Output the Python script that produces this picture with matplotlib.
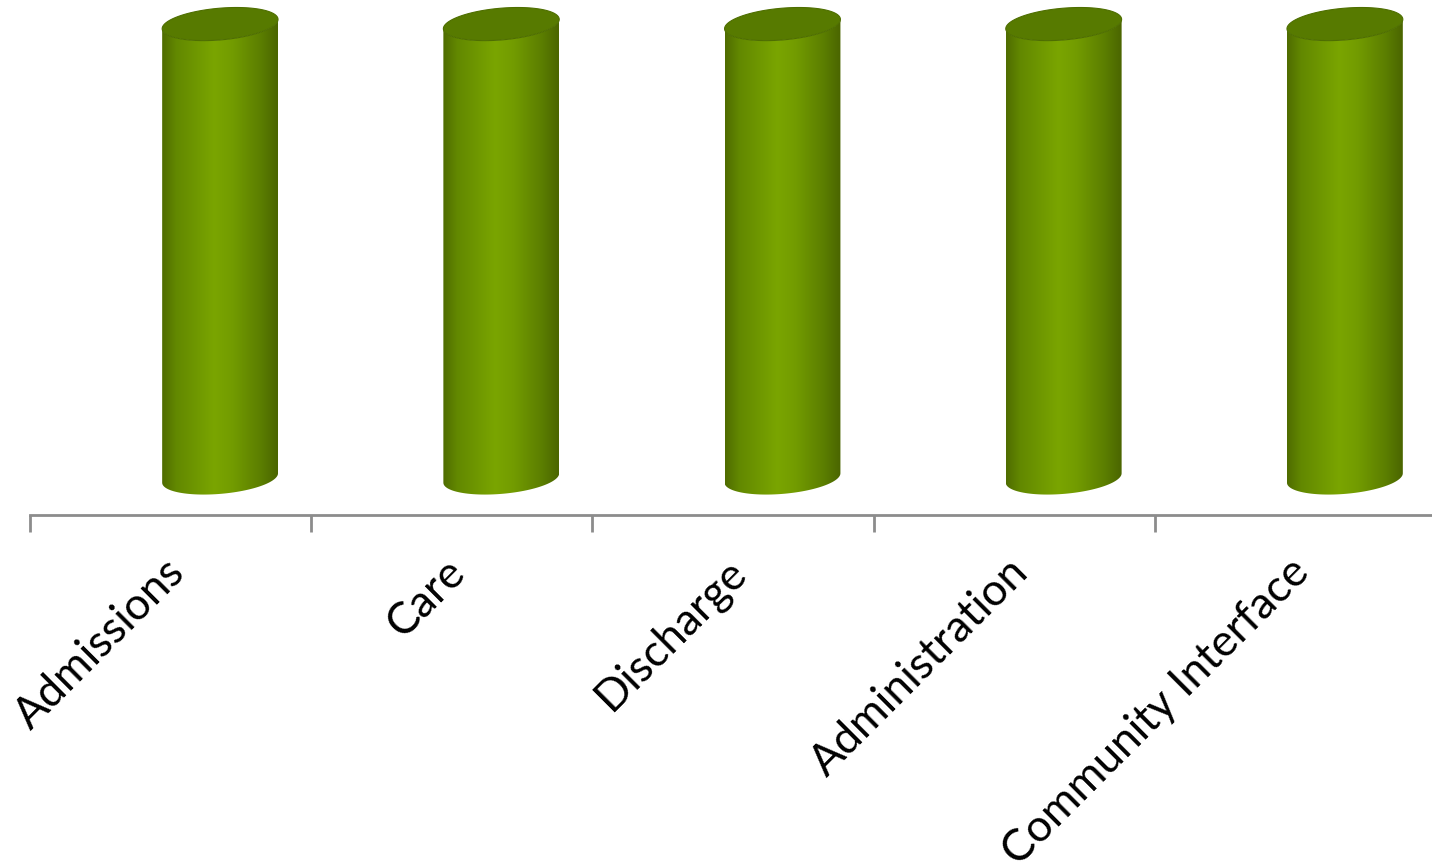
import numpy as np
import matplotlib
matplotlib.use('Agg')
import matplotlib.pyplot as plt
from matplotlib.patches import Polygon
from matplotlib.colors import LinearSegmentedColormap

##==============================================================================
categories = ['Admissions', 'Care', 'Discharge', 'Administration', 'Community Interface']
values = [1.0, 1.0, 1.0, 1.0, 1.0]

##==============================================================================
W, H = 1432, 865
fig = plt.figure(figsize=(W/100, H/100), dpi=100)
# axes: left edge at the first tick (x=30 px), floor line at y=515 px
ax = fig.add_axes([30/W, 1-515/H, 1406/W, 515/H])
ax.set_xlim(0, len(categories))
ax.set_ylim(-0.0815, 1.053)

# cylinder geometry in data units
dx = 0.176        # 3D depth shift to the right
half_w = 0.206    # half width of the cylinder
b = 0.035         # vertical semi axis of the ellipses
s = 0.05          # slight tilt of the ellipses

body_cmap = LinearSegmentedColormap.from_list('cyl', [
    (0.0, '#4f6c00'), (0.12, '#628800'), (0.45, '#7aa500'),
    (0.6, '#739c00'), (0.85, '#5c7f00'), (1.0, '#4a6500')])

t = np.linspace(0, np.pi, 60)
for i, v in enumerate(values):
    cx = i + 0.5 + dx
    # bottom ellipse front half (left -> right)
    xb = cx - half_w*np.cos(t)
    yb = -b*np.sin(t) + s*(xb - cx)
    # top ellipse front half (right -> left)
    xt = cx + half_w*np.cos(t)
    yt = v - b*np.sin(t) + s*(xt - cx)
    body = Polygon(np.column_stack([np.r_[xb, xt], np.r_[yb, yt]]),
                   closed=True, facecolor='none', edgecolor='none')
    ax.add_patch(body)
    grad = np.linspace(0, 1, 256).reshape(1, -1)
    im = ax.imshow(grad, cmap=body_cmap, aspect='auto', interpolation='bilinear',
                   extent=[cx-half_w, cx+half_w, -0.06, v+0.06], zorder=2)
    im.set_clip_path(body)
    # top cap
    tt = np.linspace(0, 2*np.pi, 120)
    xc = cx + half_w*np.cos(tt)
    yc = v + b*np.sin(tt) + s*(xc - cx)
    ax.add_patch(Polygon(np.column_stack([xc, yc]), closed=True,
                         facecolor='#577a00', edgecolor='#4e6e00', lw=0.8, zorder=3))

# only the floor line, with ticks between categories
for side in ['top', 'right', 'left']:
    ax.spines[side].set_visible(False)
ax.spines['bottom'].set_color('#8c8c8c')
ax.spines['bottom'].set_linewidth(2)
ax.set_yticks([])
ax.set_xticks(np.arange(len(categories)), minor=True)
ax.tick_params(axis='x', which='minor', length=12, width=2, color='#8c8c8c')
ax.set_xticks(np.arange(len(categories)) + 0.475)
ax.tick_params(axis='x', which='major', length=0, pad=26)
ax.set_xticklabels(categories, rotation=45, ha='right', va='top',
                   rotation_mode='anchor', fontsize=32, family='Lato')

fig.savefig('out.png', dpi=100)
